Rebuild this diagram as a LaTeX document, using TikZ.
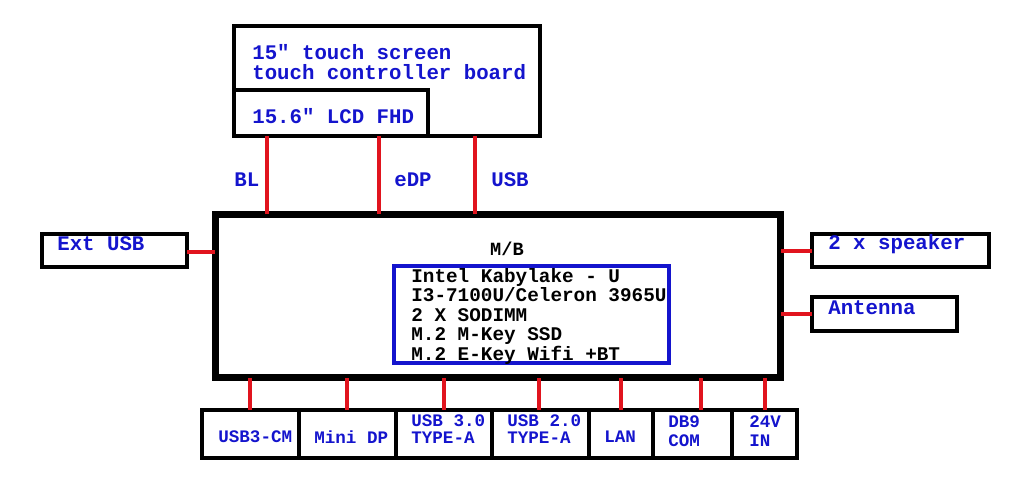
\documentclass[tikz,border=0pt]{standalone}
\usepackage{fontspec}
\setmainfont{Liberation Mono}[Ligatures=TeXOff]
\usetikzlibrary{positioning}
\definecolor{labelblue}{RGB}{20,20,205}
\definecolor{wirered}{RGB}{225,20,30}
\tikzset{
  box/.style={draw=black, line width=.08cm, inner sep=0pt, outer sep=0pt, anchor=north west},
  mainboard/.style={box, line width=.14cm},
  cpubox/.style={box, draw=labelblue},
  wire/.style={draw=wirered, line width=.08cm},
  boxlabel/.style={text=labelblue, anchor=west, align=left, inner sep=0pt, font=\fontsize{11.8}{11.4}\selectfont\bfseries},
  portlabel/.style={boxlabel, font=\fontsize{10}{10}\selectfont\bfseries},
  tallport/.style={boxlabel, font=\fontsize{10}{11}\selectfont\bfseries},
  cpulabel/.style={anchor=north west, align=left, inner sep=0pt, font=\fontsize{11}{11.1}\selectfont\bfseries},
}
\begin{document}
\begin{tikzpicture}[x=0.02cm,y=-0.02cm]
\useasboundingbox (0,0) rectangle (1033,497);
% the nodes
\node [box, minimum width=6.12cm, minimum height=2.2cm] (touch) at (234,26) {};
\node [box, minimum width=3.88cm, minimum height=.92cm] (lcd) at (234,90) {};
\node [mainboard, minimum width=11.32cm, minimum height=3.28cm] (mb) at (215,214) {};
\node [cpubox, minimum width=5.5cm, minimum height=1.94cm] (cpu) at (394,266) {};
\node [box, minimum width=2.9cm, minimum height=.66cm] (extusb) at (42,234) {};
\node [box, minimum width=3.54cm, minimum height=.66cm] (speaker) at (812,234) {};
\node [box, minimum width=2.9cm, minimum height=.68cm] (antenna) at (812,297) {};
\node [box, minimum width=1.94cm, minimum height=.96cm] (usbcm) at (202,410) {};
\node [box, minimum width=1.94cm, minimum height=.96cm] (minidp) at (299,410) {};
\node [box, minimum width=1.92cm, minimum height=.96cm] (usbthree) at (396,410) {};
\node [box, minimum width=1.94cm, minimum height=.96cm] (usbtwo) at (492,410) {};
\node [box, minimum width=1.28cm, minimum height=.96cm] (lan) at (589,410) {};
\node [box, minimum width=1.58cm, minimum height=.96cm] (dbnine) at (653,410) {};
\node [box, minimum width=1.3cm, minimum height=.96cm] (power) at (732,410) {};
% the texts
\node [boxlabel] (touchtext) at (252,62) {15" touch screen\\touch controller board};
\node [boxlabel] (lcdtext) at (252,116) {15.6" LCD FHD};
\node [boxlabel] (bltext) at (234,180) {BL};
\node [boxlabel] (edptext) at (394,180) {eDP};
\node [boxlabel] (usbtext) at (491,180) {USB};
\node [boxlabel] (extusbtext) at (57,244) {Ext USB};
\node [boxlabel] (speakertext) at (828,244) {2 x speaker};
\node [boxlabel] (antennatext) at (828,308) {Antenna};
\node [boxlabel, text=black, anchor=center, font=\fontsize{10.6}{11}\selectfont\bfseries] (mbtext) at (507,249) {M/B};
\node [cpulabel] (cputext) at (411,268) {Intel Kabylake - U\\I3-7100U/Celeron 3965U\\2 X SODIMM\\M.2 M-Key SSD\\M.2 E-Key Wifi +BT};
\node [portlabel] (usbcmtext) at (218,437) {USB3-CM};
\node [portlabel] (minidptext) at (314,437) {Mini DP};
\node [portlabel] (usbthreetext) at (411,429) {USB 3.0\\TYPE-A};
\node [portlabel] (usbtwotext) at (507,429) {USB 2.0\\TYPE-A};
\node [portlabel] (lantext) at (604,437) {LAN};
\node [tallport] (dbninetext) at (668,431) {DB9\\COM};
\node [tallport] (powertext) at (749,431) {24V\\IN};
%drawings of wires
\draw[wire] ([xshift=.66cm]lcd.south west) -- ([xshift=.66cm]lcd.south west |- mb.north);
\draw[wire] ([xshift=2.9cm]lcd.south west) -- ([xshift=2.9cm]lcd.south west |- mb.north);
\draw[wire] ([xshift=-1.3cm]touch.south east) -- ([xshift=-1.3cm]touch.south east |- mb.north);
\draw[wire] ([yshift=-.02cm]extusb.east) -- ([yshift=-.02cm]extusb.east -| mb.west);
\draw[wire] (speaker.west) -- (speaker.west -| mb.east);
\draw[wire] (antenna.west) -- (antenna.west -| mb.east);
\draw[wire] (usbcm.north) -- (usbcm.north |- mb.south);
\draw[wire] (minidp.north) -- (minidp.north |- mb.south);
\draw[wire] (usbthree.north) -- (usbthree.north |- mb.south);
\draw[wire] ([xshift=-.04cm]usbtwo.north) -- ([xshift=-.04cm]usbtwo.north |- mb.south);
\draw[wire] (lan.north) -- (lan.north |- mb.south);
\draw[wire] ([xshift=.16cm]dbnine.north) -- ([xshift=.16cm]dbnine.north |- mb.south);
\draw[wire] (power.north) -- (power.north |- mb.south);
\end{tikzpicture}
\end{document}
